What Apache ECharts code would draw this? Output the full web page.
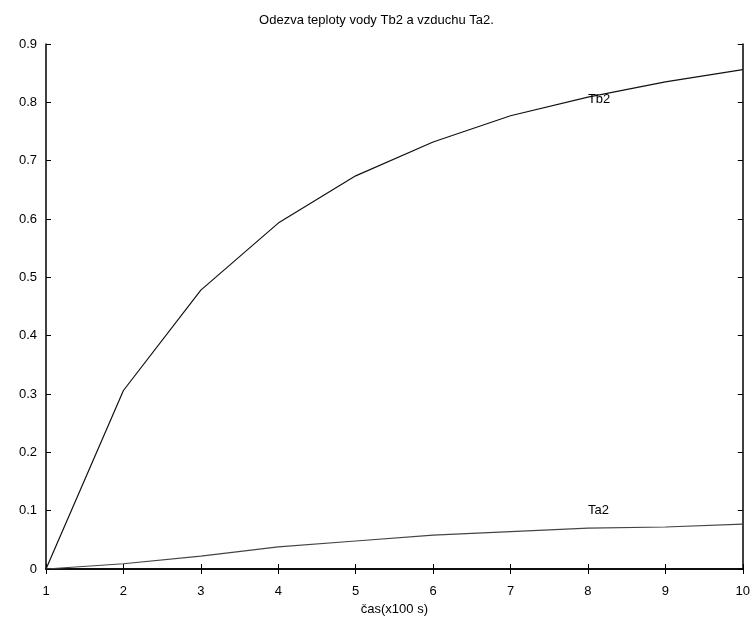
<!DOCTYPE html>
<html>
<head>
<meta charset="utf-8">
<script src="https://cdn.jsdelivr.net/npm/echarts@6/dist/echarts.min.js"></script>
<style>
  html, body { margin: 0; padding: 0; background: #fff; }
  #chart { width: 753px; height: 621px; }
</style>
</head>
<body>
<div id="chart"></div>
<script>
const time = [1, 2, 3, 4, 5, 6, 7, 8, 9, 10];
const tb2 = [0, 0.306, 0.478, 0.593, 0.674, 0.732, 0.777, 0.809, 0.835, 0.856];
const ta2 = [0, 0.009, 0.022, 0.038, 0.048, 0.058, 0.064, 0.070, 0.072, 0.077];
// label anchor points in data units
const tb2Label = [8, 0.805];
const ta2Label = [8, 0.101];

const font = 'Liberation Sans, Arial, sans-serif';

let chart = echarts.init(document.getElementById('chart'));

const tickStyle = { inside: true, length: 5, lineStyle: { color: '#000', width: 1 } };
const lineStyle = { color: '#000', width: 1.5 };

let option = {
  backgroundColor: '#fff',
  animation: false,
  title: {
    text: 'Odezva teploty vody Tb2 a vzduchu Ta2.',
    left: 'center',
    top: 9,
    textStyle: { fontFamily: font, fontSize: 13, fontWeight: 'normal', color: '#000' }
  },
  grid: { left: 46, right: 10, top: 44, bottom: 49 },
  xAxis: [
    {
      type: 'value',
      min: 1,
      max: 10,
      interval: 1,
      name: 'čas(x100 s)',
      nameLocation: 'middle',
      nameGap: 34,
      nameTextStyle: { fontFamily: font, fontSize: 13, color: '#000' },
      axisLine: { onZero: false, lineStyle: lineStyle },
      axisTick: tickStyle,
      axisLabel: { fontFamily: font, fontSize: 13, color: '#000', margin: 16 },
      splitLine: { show: false }
    },
    {
      type: 'value',
      position: 'top',
      min: 1,
      max: 10,
      interval: 1,
      axisLine: { lineStyle: lineStyle },
      axisTick: tickStyle,
      axisLabel: { show: false },
      splitLine: { show: false }
    }
  ],
  yAxis: [
    {
      type: 'value',
      min: 0,
      max: 0.9,
      interval: 0.1,
      axisLine: { show: true, onZero: false, lineStyle: lineStyle },
      axisTick: tickStyle,
      axisLabel: { fontFamily: font, fontSize: 13, color: '#000', margin: 9 },
      splitLine: { show: false }
    },
    {
      type: 'value',
      position: 'right',
      min: 0,
      max: 0.9,
      interval: 0.1,
      axisLine: { show: true, lineStyle: lineStyle },
      axisTick: tickStyle,
      axisLabel: { show: false },
      splitLine: { show: false }
    }
  ],
  series: [
    {
      name: 'Tb2',
      type: 'line',
      data: time.map((t, i) => [t, tb2[i]]),
      showSymbol: false,
      lineStyle: { color: '#111', width: 1.2 },
      markPoint: {
        symbol: 'circle',
        symbolSize: 0,
        data: [{ coord: tb2Label }],
        label: {
          show: true, position: 'right', distance: 0, formatter: 'Tb2',
          fontFamily: font, fontSize: 13, color: '#000'
        }
      }
    },
    {
      name: 'Ta2',
      type: 'line',
      data: time.map((t, i) => [t, ta2[i]]),
      showSymbol: false,
      lineStyle: { color: '#444', width: 1.2 },
      markPoint: {
        symbol: 'circle',
        symbolSize: 0,
        data: [{ coord: ta2Label }],
        label: {
          show: true, position: 'right', distance: 0, formatter: 'Ta2',
          fontFamily: font, fontSize: 13, color: '#000'
        }
      }
    }
  ]
};

option && chart.setOption(option);
</script>
</body>
</html>
